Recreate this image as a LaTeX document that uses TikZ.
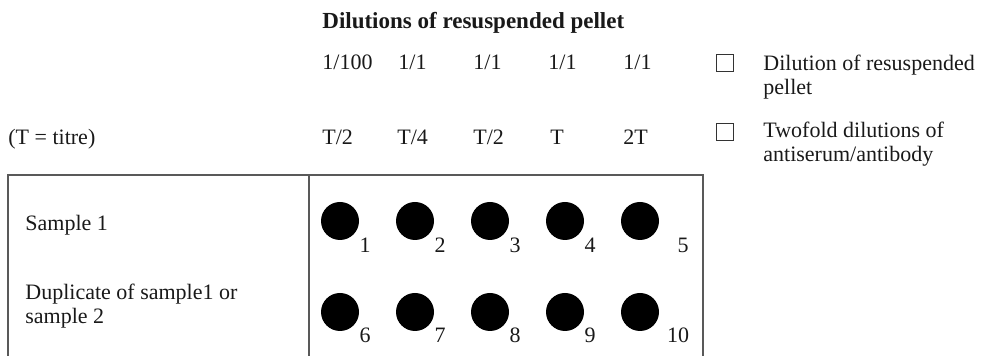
\documentclass[tikz,border=0pt]{standalone}
\usepackage{fontspec}
\setmainfont{Liberation Serif}
\begin{document}
\begin{tikzpicture}[x=0.5pt,y=-0.5pt,
  every node/.style={inner sep=0pt, text=black!90, font=\fontsize{11}{12}\selectfont},
  txt/.style={anchor=base west, align=left},
  well/.style={circle, fill=black, minimum size=19pt},
  num/.style={anchor=base},
  tickbox/.style={draw=black!80, line width=0.5pt, minimum size=8.5pt},
  frame/.style={draw=black!65, line width=0.6pt}]
\useasboundingbox (0,0) rectangle (983,356);
% header
\node[txt, font=\fontsize{11.5}{12}\selectfont\bfseries] (title) at (322,29) {Dilutions of resuspended pellet};
\foreach \i/\x/\t in {1/322/{1/100},2/398/{1/1},3/473/{1/1},4/548/{1/1},5/623/{1/1}}
  \node[txt] (dil\i) at (\x,70) {\t};
\foreach \i/\x/\t in {1/322/{T/2},2/397/{T/4},3/473/{T/2},4/550/{T},5/623/{2T}}
  \node[txt] (tit\i) at (\x,145) {\t};
\node[txt] (tnote) at (8,145) {(T = titre)};
% legend (base = last line)
\node[tickbox] (box1) at (725,63) {};
\node[txt] (leg1) at (763,95) {Dilution of resuspended\\pellet};
\node[tickbox] (box2) at (725,132) {};
\node[txt] (leg2) at (763,162) {Twofold dilutions of\\antiserum/antibody};
% plate
\draw[frame] (8,356) -- (8,175) -- (703,175) -- (703,356);
\draw[frame] (309,175) -- (309,356);
\node[txt] (row1) at (25,231) {Sample 1};
\node[txt] (row2) at (25,324) {Duplicate of sample1 or\\sample 2};
\foreach \i/\x/\l in {1/340/365,2/415/440,3/490/515,4/565/590,5/640/683}{
  \node[well] (w\i) at (\x,221) {};
  \node[num] (n\i) at (\l,253) {\i};
}
\foreach \i/\x/\l in {6/340/365,7/415/440,8/490/515,9/565/590,10/640/678}{
  \node[well] (w\i) at (\x,312) {};
  \node[num] (n\i) at (\l,343) {\i};
}
\end{tikzpicture}
\end{document}
